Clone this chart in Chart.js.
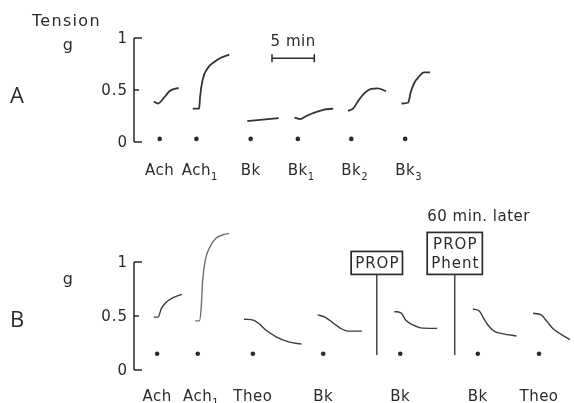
<!DOCTYPE html>
<html lang="en">
<head>
<meta charset="UTF-8">
<title>Tension</title>
<style>
  body { margin: 0; background: #fff; }
  #wrap { position: relative; width: 574px; height: 403px; }
  #wrap canvas { position: absolute; left: 0; top: 0; }
</style>
</head>
<body>
<div id="wrap">
  <canvas id="chartA" width="574" height="403"></canvas>
  <canvas id="chartB" width="574" height="403"></canvas>
</div>

<script src="https://cdn.jsdelivr.net/npm/chart.js"></script>
<script>
// time in minutes, tension in g
const yTicks = [0, 0.5, 1];

// Panel A: acetylcholine and bradykinin responses
const namesA = [['Ach', ''], ['Ach', '1'], ['Bk', ''], ['Bk', '1'], ['Bk', '2'], ['Bk', '3']];
const doseA = [3.04, 7.37, 13.78, 19.35, 25.67, 32.03];
const achA  = [[2.34, .39], [2.81, .37], [3.63, .435], [4.21, .49], [5.27, .52]];
const ach1A = [[6.94, .32], [7.70, .32], [7.80, .43], [8.11, .60], [8.70, .71], [9.48, .77], [10.26, .81], [11.24, .84]];
const bkA   = [[13.38, .20], [15.2, .215], [17.09, .23]];
const bk1A  = [[18.96, .235], [19.63, .22], [20.36, .25], [21.38, .285], [22.35, .31], [23.53, .32]];
const bk2A  = [[25.28, .30], [25.87, .32], [26.53, .40], [27.23, .47], [28.01, .51], [28.79, .515], [29.76, .49]];
const bk3A  = [[31.60, .37], [32.39, .38], [32.69, .48], [33.09, .565], [33.67, .63], [34.26, .67], [34.96, .67]];

// Panel B: relaxations, before and after blockers
const namesB = [['Ach', ''], ['Ach', '1'], ['Theo', ''], ['Bk', ''], ['Bk', ''], ['Bk', ''], ['Theo', '']];
const doseB = [2.73, 7.53, 14.04, 22.35, 31.45, 40.61, 47.84];
const achB   = [[2.34, .49], [2.84, .49], [3.24, .57], [3.83, .63], [4.60, .67], [5.65, .70]];
const ach1B  = [[7.22, .455], [7.72, .455], [7.92, .555], [8.11, .83], [8.43, 1.02], [8.90, 1.13], [9.68, 1.22], [10.45, 1.25], [11.24, 1.265]];
const theoB  = [[12.99, .47], [14.16, .46], [14.75, .43], [15.57, .37], [16.74, .31], [18.26, .26], [19.78, .24]];
const bkB1   = [[21.69, .51], [22.55, .49], [23.53, .435], [24.31, .39], [25.28, .36], [26.92, .36]];
const bkB2   = [[30.75, .54], [31.52, .53], [32.11, .46], [32.89, .42], [33.86, .39], [35.81, .385]];
const bkB3   = [[40.03, .565], [40.81, .545], [41.28, .48], [41.87, .41], [42.64, .355], [43.62, .335], [45.18, .315]];
const theoB2 = [[47.13, .525], [48.10, .51], [48.77, .45], [49.47, .385], [50.25, .34], [51.5, .28]];
const blockers = [
  { t: 28.68, lines: ['PROP'] },
  { t: 37.89, lines: ['PROP', 'Phent'] }
];
const laterNote = '60 min. later';

const ink = '#2b2b2b';
const face = '"DejaVu Sans", sans-serif';

const panelDecor = {
  id: 'panelDecor',
  afterDraw(chart, args, o) {
    const { ctx } = chart;
    const x = chart.scales.x, y = chart.scales.y;
    const x0 = x.getPixelForValue(0);
    const yZero = y.getPixelForValue(0);
    ctx.save();
    ctx.fillStyle = ink;
    ctx.strokeStyle = ink;

    // bracket-style y axis, ticks pointing inwards
    ctx.lineWidth = 1.5;
    ctx.beginPath();
    ctx.moveTo(x0, y.getPixelForValue(1));
    ctx.lineTo(x0, yZero);
    yTicks.forEach(v => {
      const py = y.getPixelForValue(v);
      ctx.moveTo(x0, py);
      ctx.lineTo(x0 + (v === 0.5 ? 5 : 8), py);
    });
    ctx.stroke();

    ctx.font = '15px ' + face;
    ctx.letterSpacing = '1px';
    ctx.textAlign = 'right';
    ctx.textBaseline = 'middle';
    yTicks.forEach(v => ctx.fillText(String(v), x0 - 6, y.getPixelForValue(v) + 1));

    // stimulus names under the dots
    ctx.textAlign = 'left';
    ctx.textBaseline = 'alphabetic';
    ctx.letterSpacing = '0.5px';
    o.names.forEach(([main, sub], i) => {
      const cx = x.getPixelForValue(o.doses[i]);
      ctx.font = '15px ' + face;
      const w = ctx.measureText(main).width;
      ctx.fillText(main, cx - w / 2, yZero + o.labelGap);
      if (sub) {
        ctx.font = '10px ' + face;
        ctx.fillText(sub, cx + w / 2, yZero + o.labelGap + 5);
      }
    });

    // unit and panel letter
    ctx.font = '16px ' + face;
    ctx.textAlign = 'center';
    ctx.fillText('g', o.unitAt[0], o.unitAt[1]);
    if (o.title) {
      ctx.letterSpacing = '1.3px';
      ctx.textAlign = 'left';
      ctx.fillText(o.title, 32, 26);
    }
    ctx.letterSpacing = '0px';
    ctx.textAlign = 'left';
    ctx.font = '22px "Open Sans", ' + face;
    ctx.fillText(o.letter, o.letterAt[0], o.letterAt[1]);

    // time scale bar
    if (o.bar) {
      const xa = x.getPixelForValue(o.bar.start);
      const xb = x.getPixelForValue(o.bar.start + o.bar.length);
      const py = y.getPixelForValue(o.bar.level);
      ctx.lineWidth = 1.5;
      ctx.beginPath();
      ctx.moveTo(xa, py); ctx.lineTo(xb, py);
      ctx.moveTo(xa, py - 4); ctx.lineTo(xa, py + 4);
      ctx.moveTo(xb, py - 4); ctx.lineTo(xb, py + 4);
      ctx.stroke();
      ctx.font = '15px ' + face;
      ctx.letterSpacing = '0.5px';
      ctx.textAlign = 'center';
      ctx.fillText(o.bar.length + ' min', (xa + xb) / 2, py - 12.5);
    }

    // blocker markers: boxed names on a stalk
    if (o.markers) {
      ctx.font = '15px ' + face;
      ctx.letterSpacing = '1px';
      ctx.textAlign = 'center';
      o.markers.forEach((m, i) => {
        const px = x.getPixelForValue(m.t);
        const bottom = y.getPixelForValue(o.markerTop);
        const foot = y.getPixelForValue(o.markerFoot);
        const w = Math.max(...m.lines.map(s => ctx.measureText(s).width)) + 7;
        const h = m.lines.length * 19 + 4;
        ctx.lineWidth = 1.3;
        ctx.beginPath();
        ctx.moveTo(px, bottom); ctx.lineTo(px, foot);
        ctx.stroke();
        ctx.lineWidth = 1.7;
        ctx.strokeRect(px - w / 2, bottom - h, w, h);
        m.lines.forEach((s, k) => {
          ctx.fillText(s, px + 0.5, bottom - 6 - 19 * (m.lines.length - 1 - k));
        });
        if (o.note && i === o.markers.length - 1) {
          ctx.textAlign = 'left';
          ctx.letterSpacing = '0.5px';
          ctx.fillText(o.note, px - w / 2, bottom - h - 11);
        }
      });
    }
    ctx.restore();
  }
};

function makePanel(id, traces, colors, doses, dotLevel, yMin, yMax, padding, decor) {
  const datasets = traces.map((pts, i) => ({
    data: pts.map(([t, g]) => ({ x: t, y: g })),
    borderColor: colors[i],
    borderWidth: decor.lineWidth,
    pointRadius: 0,
    fill: false,
    cubicInterpolationMode: 'monotone'
  }));
  datasets.push({
    type: 'scatter',
    data: doses.map(t => ({ x: t, y: dotLevel })),
    pointRadius: 2.3,
    pointBackgroundColor: ink,
    pointBorderWidth: 0
  });
  return new Chart(document.getElementById(id), {
    type: 'line',
    data: { datasets },
    options: {
      responsive: false,
      animation: false,
      events: [],
      layout: { padding },
      plugins: {
        legend: { display: false },
        tooltip: { enabled: false },
        panelDecor: decor
      },
      scales: {
        x: { type: 'linear', min: 0, max: 51.5, display: false },
        y: { min: yMin, max: yMax, display: false }
      }
    },
    plugins: [panelDecor]
  });
}

makePanel('chartA',
  [achA, ach1A, bkA, bk1A, bk2A, bk3A],
  ['#333', '#333', '#333', '#333', '#333', '#333'],
  doseA, 0.03, -0.25, 1.25,
  { left: 134, right: 0, top: 12, bottom: 235 },
  {
    names: namesA, doses: doseA, labelGap: 33, lineWidth: 1.8,
    title: 'Tension', unitAt: [68, 50], letter: 'A', letterAt: [10, 103],
    bar: { start: 16.3, length: 5, level: 0.805 }
  });

makePanel('chartB',
  [achB, ach1B, theoB, bkB1, bkB2, bkB3, theoB2],
  ['#3a3a3a', '#707070', '#3a3a3a', '#3a3a3a', '#3a3a3a', '#3a3a3a', '#3a3a3a'],
  doseB, 0.15, -0.25, 1.5,
  { left: 134, right: 0, top: 208, bottom: 6 },
  {
    names: namesB, doses: doseB, labelGap: 31, lineWidth: 1.4,
    unitAt: [68, 284], letter: 'B', letterAt: [10, 327],
    markers: blockers, markerTop: 0.885, markerFoot: 0.14, note: laterNote
  });
</script>
</body>
</html>
